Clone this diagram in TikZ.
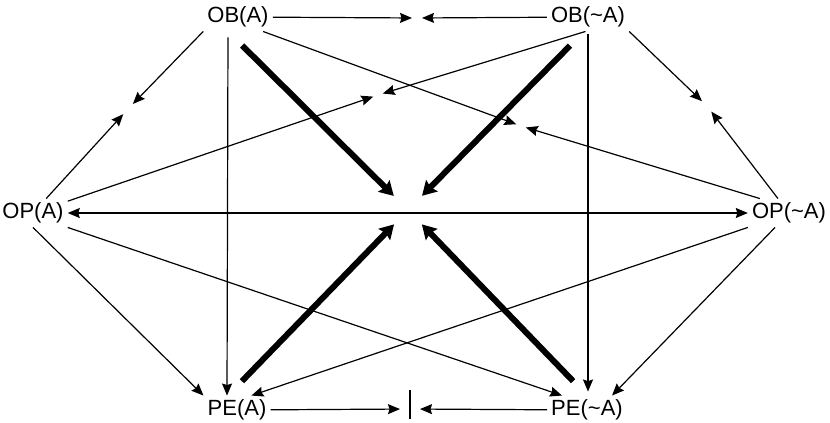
\documentclass[tikz,border=0pt]{standalone}
\usepackage{fontspec}
\setmainfont{Liberation Sans}
\usetikzlibrary{arrows.meta}

\begin{document}
\begin{tikzpicture}[x=1pt, y=-1pt,
        >={Stealth[length=12pt, width=10pt, inset=1.5pt]},
        every node/.style={font=\fontsize{22}{26}\selectfont, inner sep=4pt},
        link/.style={->, line width=1.2pt},
        meet/.style={link, shorten >=6pt},
        deduce/.style={-{Stealth[length=14pt, width=16pt, inset=2pt]}, line width=6pt, shorten <=20pt, shorten >=20pt}]
        \useasboundingbox (0,0) rectangle (830,423);

        \node (OBA) at (238,17) {OB(A)};
        \node (OBnA) at (588,17) {OB(\char`\~A)};
        \node (OPA) at (33,213) {OP(A)};
        \node (OPnA) at (789,213) {OP(\char`\~A)};
        \node (PEA) at (237,410) {PE(A)};
        \node (PEnA) at (587,410) {PE(\char`\~A)};

        % meeting points
        \coordinate (top) at (417,18);
        \coordinate (lft) at (128,109);
        \coordinate (rgt) at (707,106);
        \coordinate (umid) at (378,95);
        \coordinate (rmid) at (521,126);
        \coordinate (ctr) at (408,210);
        \coordinate (bot) at (410,409);

        \draw[meet, shorten >=5pt] (OBA) -- (top);
        \draw[meet, shorten >=5pt] (OBnA) -- (top);
        \draw[meet, shorten >=7pt] (OBA.south west) -- (lft);
        \draw[meet, shorten >=7pt] (OPA) -- (lft);
        \draw[meet, shorten >=7pt] (OBnA.south east) -- (rgt);
        \draw[meet, shorten >=7pt] (OPnA) -- (rgt);
        \draw[meet, shorten >=5pt] (OBnA.-100) -- (umid);
        \draw[meet, shorten >=5pt] (OPA) -- (umid);
        \draw[meet, shorten >=5pt] (OBA.-30) -- (rmid);
        \draw[meet, shorten >=5pt] ([xshift=12pt]OPnA.north west) -- (rmid);

        \draw[link, <->] (OPA) -- (OPnA);

        \draw[link, shorten <=6pt] ([xshift=-10pt]OBA.south) -- ([xshift=-10pt]PEA.north);
        \draw[link, shorten <=3pt, shorten >=4pt] (OBnA.south) -- (OBnA.south |- PEnA.north);
        \draw[link] (OPA.south) -- (PEA.north west);
        \draw[link] (OPA.south east) -- (PEnA.150);
        \draw[link] (OPnA.south west) -- (PEA.45);
        \draw[link] (OPnA) -- (PEnA.30);

        \draw[meet, shorten >=10pt] (PEA) -- (bot);
        \draw[meet, shorten >=10pt] (PEnA) -- (bot);
        \draw[line width=1.2pt] ([yshift=19pt]bot) -- ([yshift=-10pt]bot);

        \draw[deduce] ([xshift=-10pt]OBA.south) -- (ctr);
        \draw[deduce] ([xshift=-4pt]OBnA.south) -- (ctr);
        \draw[deduce] ([xshift=-9pt]PEA.north) -- (ctr);
        \draw[deduce] (PEnA.north) -- (ctr);
    \end{tikzpicture}
\end{document}
